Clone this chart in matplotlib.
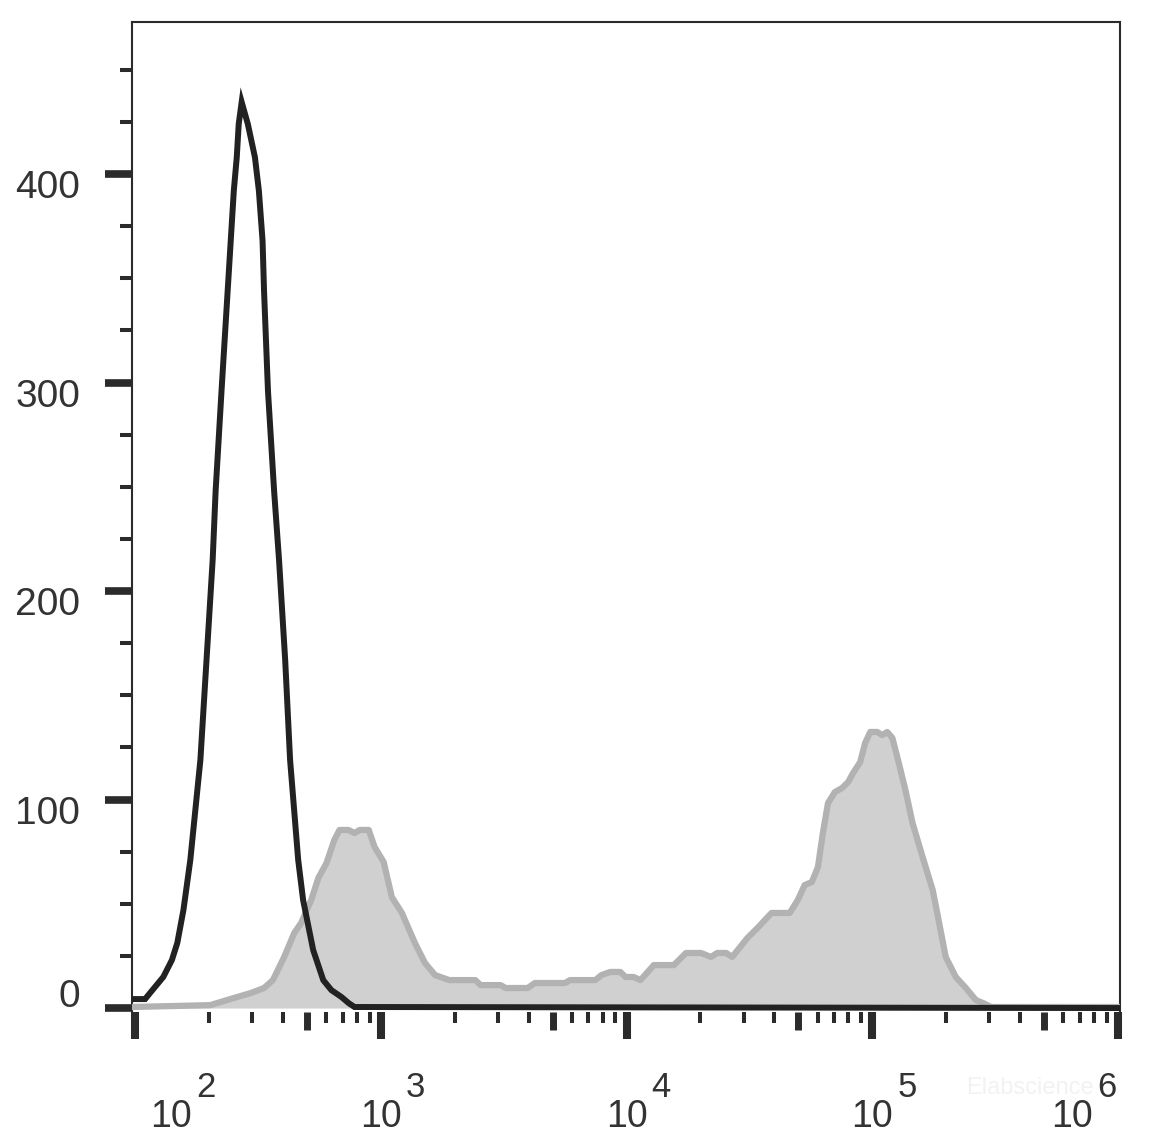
import numpy as np
import matplotlib
matplotlib.use('Agg')
import matplotlib.pyplot as plt
from matplotlib.ticker import FixedLocator, LogLocator, MultipleLocator, NullLocator
from matplotlib.transforms import ScaledTranslation

plt.rcParams['font.family'] = ['Liberation Sans', 'DejaVu Sans']

# control (black line): log10 of fluorescence, count
ctrl_log = np.array([1.988, 2.041, 2.061, 2.115, 2.150, 2.172, 2.197, 2.225, 2.266, 2.291,
                     2.316, 2.328, 2.352, 2.377, 2.402, 2.414, 2.422, 2.434, 2.459, 2.488,
                     2.504, 2.519, 2.525, 2.541, 2.566, 2.586, 2.611, 2.631, 2.664, 2.684,
                     2.725, 2.766, 2.799, 2.840, 2.869, 2.893, 6.02])
ctrl_count = np.array([4.3, 4.3, 7.2, 14.9, 23.0, 31.2, 47.0, 71.0, 119.0, 167.0,
                       215.0, 248.0, 296.0, 344.0, 392.0, 408.0, 424.0, 434.5, 424.0, 408.0,
                       392.0, 368.0, 344.0, 296.0, 248.0, 215.0, 167.0, 119.0, 71.0, 51.8,
                       27.8, 13.4, 8.6, 5.3, 2.4, 0.5, 0.0])

# stained sample (grey filled)
stain_log = np.array([1.988, 2.307, 2.348, 2.402, 2.471, 2.525, 2.561, 2.607, 2.648, 2.676,
                      2.717, 2.746, 2.779, 2.811, 2.832, 2.869, 2.893, 2.914, 2.951, 2.975,
                      3.012, 3.045, 3.086, 3.139, 3.180, 3.221, 3.279, 3.385, 3.406, 3.488,
                      3.508, 3.598, 3.627, 3.750, 3.770, 3.873, 3.898, 3.934, 3.975, 3.996,
                      4.029, 4.057, 4.111, 4.193, 4.242, 4.303, 4.344, 4.369, 4.406, 4.430,
                      4.492, 4.533, 4.590, 4.664, 4.697, 4.725, 4.754, 4.779, 4.799, 4.820,
                      4.848, 4.877, 4.902, 4.922, 4.951, 4.971, 4.992, 5.020, 5.041, 5.061,
                      5.082, 5.107, 5.135, 5.164, 5.205, 5.246, 5.270, 5.299, 5.340, 5.381,
                      5.422, 5.451, 5.484, 6.02])
stain_count = np.array([0.5, 1.4, 2.9, 4.8, 7.2, 9.6, 13.4, 24.5, 36.0, 40.8,
                        51.8, 62.4, 69.5, 80.6, 85.4, 85.4, 83.9, 85.4, 85.4, 77.2,
                        70.0, 53.2, 45.6, 31.2, 21.6, 15.8, 13.4, 13.4, 11.0, 11.0,
                        9.6, 9.6, 12.0, 12.0, 13.4, 13.4, 15.8, 17.3, 17.3, 14.9,
                        14.9, 13.4, 20.6, 20.6, 26.4, 26.4, 24.5, 26.4, 26.4, 24.5,
                        33.6, 38.4, 45.6, 45.6, 51.8, 59.0, 60.4, 67.6, 83.9, 98.3,
                        103.6, 105.5, 108.4, 112.7, 118.0, 127.1, 132.4, 132.4, 130.9, 132.4,
                        129.5, 118.0, 104.6, 88.7, 72.4, 56.6, 42.2, 24.5, 14.9, 9.6,
                        3.8, 2.4, 0.5, 0.5])

decades = [2, 3, 4, 5, 6]
mid_ticks = [5e2, 5e3, 5e4, 5e5]
y_major = [0, 100, 200, 300, 400]
y_labels = ['0', '100', '200', '300', '400']

tick_col = '#2b2b2b'
text_col = '#333333'

fig = plt.figure(figsize=(11.56, 11.35), dpi=100)
ax = fig.add_axes([132/1156, 1-1012/1135, 988/1156, 990/1135])

xs = 10.0**stain_log
ax.fill_between(xs, stain_count, 0, color='#d0d0d0', lw=0, zorder=2)
ax.plot(xs, stain_count, color='#b2b2b2', lw=4.5, zorder=3)
ax.plot(10.0**ctrl_log, ctrl_count, color='#222222', lw=4.3, zorder=4,
        solid_joinstyle='miter')

ax.set_xscale('log')
ax.set_xlim(10**(2-3/244), 10**(6+2/244))
ax.set_ylim(-1.9, 472.9)

ax.xaxis.set_major_locator(FixedLocator([10.0**e for e in decades]))
ax.xaxis.set_minor_locator(LogLocator(base=10, subs=[2, 3, 4, 6, 7, 8, 9]))
ax.set_yticks(y_major)
ax.set_yticklabels(y_labels)
ax.yaxis.set_minor_locator(MultipleLocator(25))

for s in ['left', 'top', 'right']:
    ax.spines[s].set_linewidth(1.5)
    ax.spines[s].set_color(tick_col)
ax.spines['bottom'].set_visible(False)

ax.tick_params(axis='y', which='major', length=19.4, width=5.5, color=tick_col,
               pad=18, labelsize=28, labelcolor=text_col)
ax.tick_params(axis='y', which='minor', length=8.6, width=2.9, color=tick_col)
ax.tick_params(axis='x', which='major', length=19.4, width=5.8, color=tick_col,
               labelbottom=False)
ax.tick_params(axis='x', which='minor', length=7.9, width=2.9, color=tick_col,
               labelbottom=False)

# middle (5x) ticks
sec = ax.secondary_xaxis('bottom')
sec.set_xticks(mid_ticks)
sec.xaxis.set_minor_locator(NullLocator())
sec.tick_params(length=13, width=5, color=tick_col, labelbottom=False)
sec.spines['bottom'].set_visible(False)

# y labels sit a little off their ticks
for tick in ax.yaxis.get_major_ticks():
    dy = 15 if tick.get_loc() == 0 else -10
    lab = tick.label1
    lab.set_transform(lab.get_transform() + ScaledTranslation(0, dy/100, fig.dpi_scale_trans))

# x labels: 10 with a large raised exponent
base_shift = [36, 0, 0, 0, -46]
for e, dx in zip(decades, base_shift):
    ax.annotate('10', xy=(10.0**e, 0), xycoords=ax.get_xaxis_transform(),
                xytext=(dx, -115), textcoords='offset pixels', ha='center',
                va='baseline', fontsize=27, color=text_col, annotation_clip=False)
    ax.annotate(str(e), xy=(10.0**e, 0), xycoords=ax.get_xaxis_transform(),
                xytext=(dx+25, -85), textcoords='offset pixels', ha='left',
                va='baseline', fontsize=25, color=text_col, annotation_clip=False)

fig.text(1094/1156, 1-1088/1135, 'Elabscience', fontsize=17, color='#f2f2f2',
         ha='right', va='center')

fig.savefig('out.png', dpi=100)
